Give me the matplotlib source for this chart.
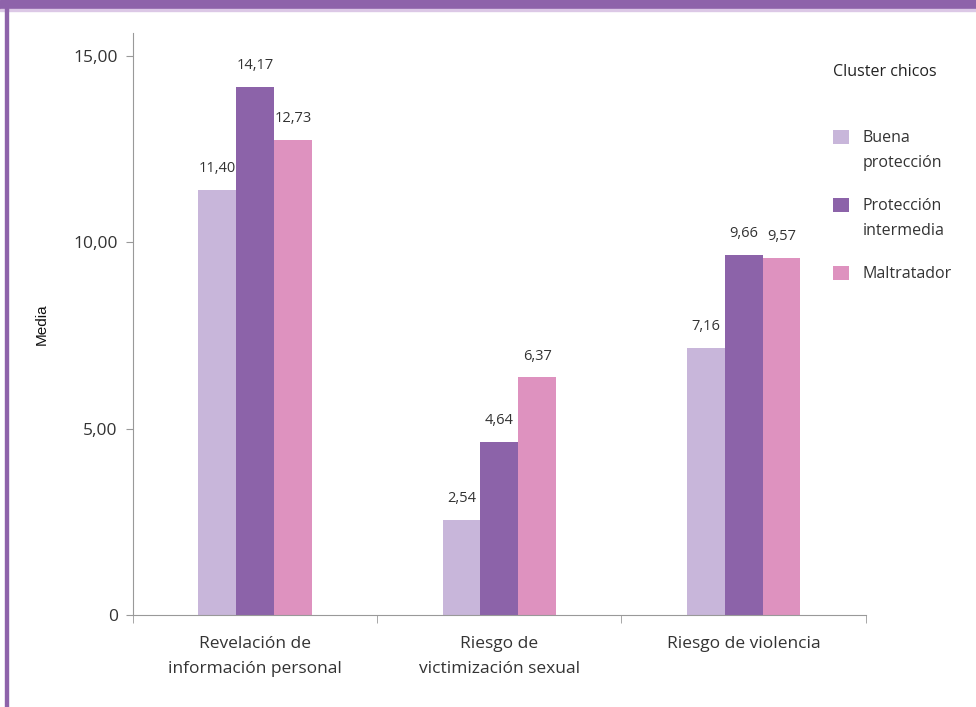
import numpy as np
import matplotlib.pyplot as plt
from matplotlib.patches import Rectangle

plt.rcParams['font.family'] = ['Open Sans', 'DejaVu Sans']

categories = ['Revelación de\ninformación personal', 'Riesgo de\nvictimización sexual', 'Riesgo de violencia']
series = ['Buena\nprotección', 'Protección\nintermedia', 'Maltratador']
buena = [11.40, 2.54, 7.16]
intermedia = [14.17, 4.64, 9.66]
maltratador = [12.73, 6.37, 9.57]
colors = ['#c8b6da', '#8c63a9', '#de92bf']
text_col = '#333333'

fig = plt.figure(figsize=(9.76, 7.07), dpi=100)
ax = fig.add_axes([0.1363, 0.130, 0.7507, 0.823])

# purple frame: header strip and left edge
fig.patches.append(Rectangle((0, 0.987), 1, 0.013, transform=fig.transFigure, color='#8e63aa', zorder=0))
fig.patches.append(Rectangle((0, 0.984), 1, 0.003, transform=fig.transFigure, color='#dcc8e6', zorder=0))
fig.patches.append(Rectangle((0.005, 0), 0.0035, 1, transform=fig.transFigure, color='#8e63aa', zorder=0))

x = np.arange(len(categories))
w = 0.155
handles = []
for i, vals in enumerate([buena, intermedia, maltratador]):
    bars = ax.bar(x + (i - 1) * w, vals, w, color=colors[i], zorder=2)
    handles.append(bars)
    for b, v in zip(bars, vals):
        ax.annotate(f'{v:.2f}'.replace('.', ','), (b.get_x() + b.get_width() / 2, v),
                    xytext=(0, 10), textcoords='offset points', ha='center', va='bottom',
                    fontsize=10.5, color=text_col)

ax.set_xlim(-0.5, 2.5)
ax.set_ylim(0, 15.6)
ax.set_yticks([0, 5, 10, 15])
ax.set_yticklabels(['0', '5,00', '10,00', '15,00'], fontsize=12.5, color=text_col)
ax.set_xticks(x)
ax.set_xticklabels(categories, fontsize=12.5, color=text_col, linespacing=1.75)
ax.tick_params(axis='x', length=0, pad=15)
ax.set_xticks([-0.5, 0.5, 1.5, 2.5], minor=True)
ax.tick_params(axis='x', which='minor', length=6, color='#999999')
ax.tick_params(axis='y', length=5, color='#999999', pad=6)
for s in ['top', 'right']:
    ax.spines[s].set_visible(False)
for s in ['left', 'bottom']:
    ax.spines[s].set_color('#999999')
ax.set_ylabel('Media', fontsize=11, color='#111111', labelpad=18, family='Liberation Sans')

leg = fig.legend(handles, series, loc='upper left', bbox_to_anchor=(0.853, 0.910),
                 frameon=False, title='Cluster chicos', fontsize=11.5, title_fontsize=11.5,
                 handlelength=1.0, handleheight=1.0, labelspacing=1.7, handletextpad=0.9,
                 alignment='left', borderpad=0, borderaxespad=0)
for t in leg.get_texts():
    t.set_color(text_col)
    t.set_linespacing(1.75)
leg.get_title().set_color('#222222')
leg._legend_box.sep = 36
for col in leg._legend_handle_box.get_children():
    for item in col.get_children():
        item.align = 'top'

fig.savefig('out.png', dpi=100)
